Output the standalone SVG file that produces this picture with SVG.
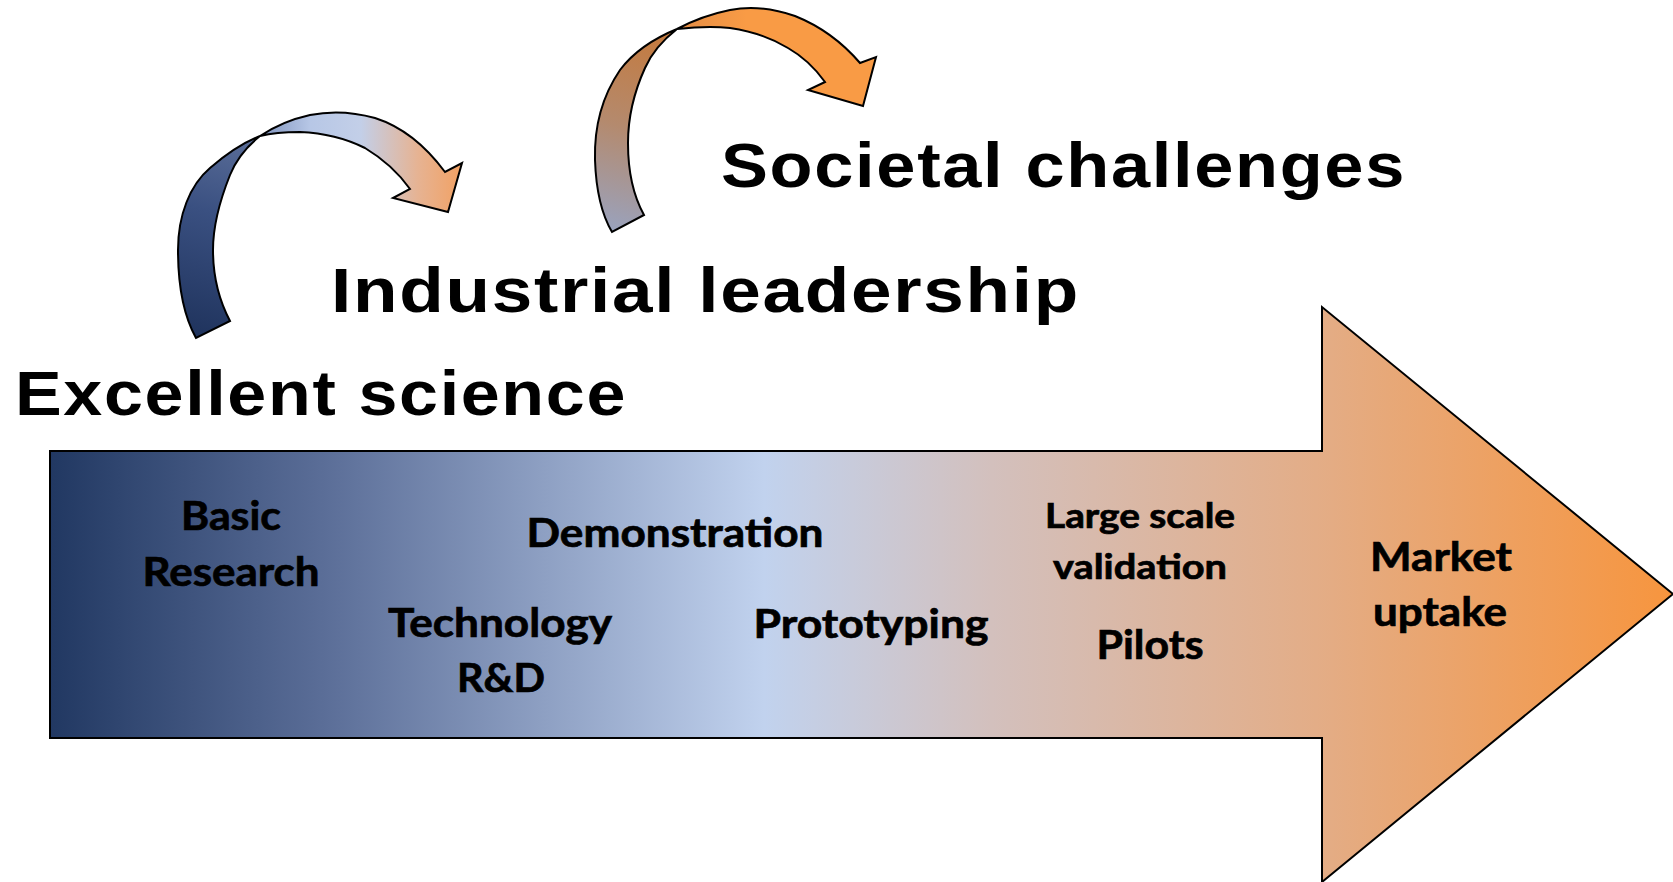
<svg xmlns="http://www.w3.org/2000/svg" width="1673" height="882" viewBox="0 0 1673 882">
<defs>
<linearGradient id="gBig" gradientUnits="userSpaceOnUse" x1="50" y1="0" x2="1673" y2="0">
<stop offset="0" stop-color="#213862"/>
<stop offset="0.17" stop-color="#5b6e98"/>
<stop offset="0.44" stop-color="#c1d2ee"/>
<stop offset="0.58" stop-color="#d3c0bd"/>
<stop offset="0.78" stop-color="#e3ad87"/>
<stop offset="1" stop-color="#f7953e"/>
</linearGradient>
<linearGradient id="gV1" gradientUnits="userSpaceOnUse" x1="200" y1="335" x2="255" y2="140">
<stop offset="0" stop-color="#20345e"/>
<stop offset="0.6" stop-color="#3a5081"/>
<stop offset="1" stop-color="#5a6d98"/>
</linearGradient>
<linearGradient id="gB1" gradientUnits="userSpaceOnUse" x1="260" y1="0" x2="462" y2="0">
<stop offset="0" stop-color="#7f93bd"/>
<stop offset="0.25" stop-color="#b7c7e6"/>
<stop offset="0.5" stop-color="#c3cfe8"/>
<stop offset="0.78" stop-color="#e6b393"/>
<stop offset="1" stop-color="#f2a163"/>
</linearGradient>
<linearGradient id="gV2" gradientUnits="userSpaceOnUse" x1="615" y1="230" x2="670" y2="35">
<stop offset="0" stop-color="#9aa2bc"/>
<stop offset="0.5" stop-color="#b48a6e"/>
<stop offset="1" stop-color="#c47a3e"/>
</linearGradient>
<linearGradient id="gB2" gradientUnits="userSpaceOnUse" x1="677" y1="0" x2="876" y2="0">
<stop offset="0" stop-color="#e48d45"/>
<stop offset="0.35" stop-color="#f99b45"/>
<stop offset="1" stop-color="#f99b45"/>
</linearGradient>
</defs>
<style>
.head{font-family:"Liberation Sans",Arial,sans-serif;font-weight:700;font-size:63px;fill:#000;letter-spacing:1.5px}
.lbl{font-family:Lato,"Liberation Sans",sans-serif;font-weight:700;font-size:40px;fill:#000;stroke:#000;stroke-width:0.7px;text-anchor:middle}
.sm{font-size:34px}
.shape{stroke:#000;stroke-width:2;stroke-linejoin:miter}
</style>

<g id="main-arrow">
<path class="shape" fill="url(#gBig)" d="M50,451 L1322,451 L1322,307 L1673,594 L1322,882 L1322,738 L50,738 Z"/>
</g>

<g id="connectors">
<g id="curved-arrow-1">
<path class="shape" fill="url(#gV1)" d="M196,338 C186,320 178,290 178,250 C178,215 190,185 210,168 C225,155 242,143 260,136 C245,148 236,160 230,175 C220,200 213,225 213,250 C213,280 220,302 230,321 Z"/>
<path class="shape" fill="url(#gB1)" d="M260,136 C275,126 292,119 310,115 C330,111 350,111 375,118 C400,126 425,145 445,172 L462,163 L448,212 L393,198 L410,189 C400,175 385,160 365,148 C345,138 325,133 300,132 C285,132 272,133 260,136 Z"/>
</g>
<g id="curved-arrow-2">
<path class="shape" fill="url(#gV2)" d="M612,232 C602,215 596,190 595,160 C594,125 603,95 620,70 C635,50 655,38 677,29 C663,40 652,52 645,68 C635,90 628,115 628,143 C628,175 634,197 644,215 Z"/>
<path class="shape" fill="url(#gB2)" d="M677,29 C692,21 710,14 730,10 C750,6 772,8 795,16 C820,26 842,42 860,63 L876,57 L863,106 L808,90 L825,82 C815,68 802,56 788,48 C770,37 750,31 730,28 C712,26 695,27 677,29 Z"/>
</g>
</g>

<g id="headings">
<text class="head" x="15" y="415" textLength="612" lengthAdjust="spacingAndGlyphs">Excellent science</text>
<text class="head" x="331" y="312" textLength="749" lengthAdjust="spacingAndGlyphs">Industrial leadership</text>
<text class="head" x="721" y="187" textLength="685" lengthAdjust="spacingAndGlyphs">Societal challenges</text>
</g>

<g id="stage-basic-research">
<text class="lbl" x="231" y="530" textLength="100" lengthAdjust="spacingAndGlyphs">Basic</text>
<text class="lbl" x="231" y="586" textLength="177" lengthAdjust="spacingAndGlyphs">Research</text>
</g>
<g id="stage-technology">
<text class="lbl" x="500" y="637" textLength="224" lengthAdjust="spacingAndGlyphs">Technology</text>
<text class="lbl" x="501" y="692" textLength="88" lengthAdjust="spacingAndGlyphs">R&amp;D</text>
</g>
<g id="stage-demonstration">
<text class="lbl" x="675" y="547" textLength="297" lengthAdjust="spacingAndGlyphs">Demonstration</text>
</g>
<g id="stage-prototyping">
<text class="lbl" x="871" y="638" textLength="235" lengthAdjust="spacingAndGlyphs">Prototyping</text>
</g>
<g id="stage-large-scale">
<text class="lbl sm" x="1140" y="528" textLength="190" lengthAdjust="spacingAndGlyphs">Large scale</text>
<text class="lbl sm" x="1140" y="579" textLength="174" lengthAdjust="spacingAndGlyphs">validation</text>
</g>
<g id="stage-pilots">
<text class="lbl" x="1150" y="659" textLength="107" lengthAdjust="spacingAndGlyphs">Pilots</text>
</g>
<g id="stage-market">
<text class="lbl" x="1441" y="571" textLength="142" lengthAdjust="spacingAndGlyphs">Market</text>
<text class="lbl" x="1440" y="626" textLength="134" lengthAdjust="spacingAndGlyphs">uptake</text>
</g>
</svg>
